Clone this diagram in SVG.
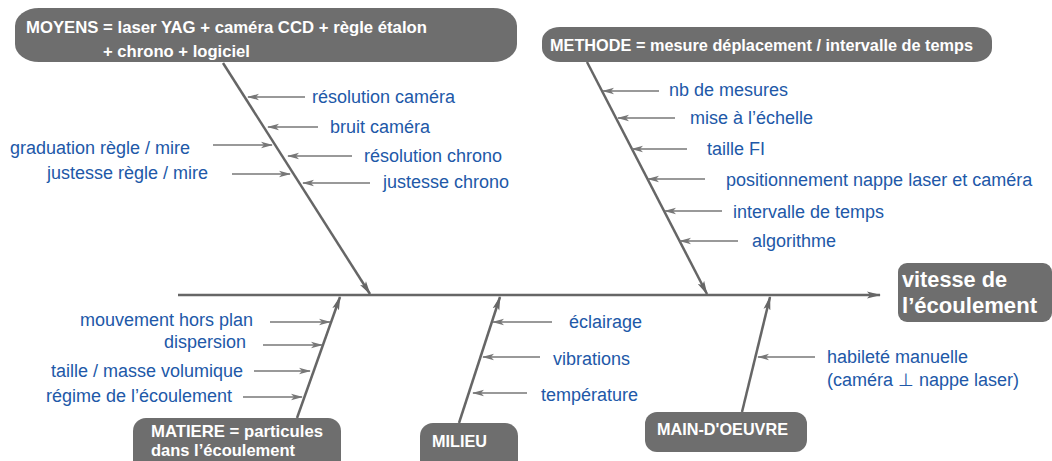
<svg xmlns="http://www.w3.org/2000/svg" width="1052" height="461" viewBox="0 0 1052 461">
<style>
.box{fill:#6e6e6e;}
.bt{font-family:"Liberation Sans",Arial,sans-serif;font-weight:bold;font-size:16.5px;fill:#ffffff;}
.et{font-family:"Liberation Sans",Arial,sans-serif;font-weight:bold;font-size:22px;fill:#ffffff;}
.ct{font-family:"Liberation Sans",Arial,sans-serif;font-size:18px;fill:#2158a8;}
.ca{stroke:#777777;stroke-width:1.5;fill:none;marker-end:url(#ah);}
.bl{stroke:#666666;stroke-width:2.5;fill:none;marker-end:url(#ahb);}
</style>
<defs>
<marker id="ah" viewBox="0 0 12 8" refX="11" refY="4" markerWidth="12" markerHeight="8" markerUnits="userSpaceOnUse" orient="auto">
<path d="M0,0.8 L12,4 L0,7.2 L3,4 z" fill="#777777"/>
</marker>
<marker id="ahb" viewBox="0 0 14 8" refX="13" refY="4" markerWidth="14" markerHeight="8" markerUnits="userSpaceOnUse" orient="auto">
<path d="M0,0.5 L14,4 L0,7.5 L3,4 z" fill="#666666"/>
</marker>
</defs>

<g id="connectors">
<line class="bl" x1="178" y1="295" x2="880" y2="295"/>
<line class="bl" x1="223" y1="63" x2="370" y2="294"/>
<line class="bl" x1="587" y1="62" x2="707" y2="294"/>
<line class="bl" x1="297" y1="418" x2="340" y2="297"/>
<line class="bl" x1="459" y1="423" x2="500" y2="297"/>
<line class="bl" x1="742" y1="412" x2="770" y2="297"/>
<line class="ca" x1="305" y1="97" x2="248" y2="97"/>
<line class="ca" x1="318" y1="127" x2="268" y2="127"/>
<line class="ca" x1="213" y1="145" x2="272" y2="145"/>
<line class="ca" x1="352" y1="156" x2="288" y2="156"/>
<line class="ca" x1="232" y1="174" x2="290" y2="174"/>
<line class="ca" x1="370" y1="183" x2="303" y2="183"/>
<line class="ca" x1="659" y1="91" x2="603" y2="91"/>
<line class="ca" x1="675" y1="118" x2="618" y2="118"/>
<line class="ca" x1="687" y1="149" x2="632" y2="149"/>
<line class="ca" x1="705" y1="179" x2="648" y2="179"/>
<line class="ca" x1="722" y1="211" x2="665" y2="211"/>
<line class="ca" x1="738" y1="241" x2="680" y2="241"/>
<line class="ca" x1="270" y1="322" x2="330" y2="322"/>
<line class="ca" x1="263" y1="345" x2="322" y2="345"/>
<line class="ca" x1="254" y1="371" x2="310" y2="371"/>
<line class="ca" x1="243" y1="397" x2="302" y2="397"/>
<line class="ca" x1="552" y1="322" x2="493" y2="322"/>
<line class="ca" x1="540" y1="357" x2="483" y2="357"/>
<line class="ca" x1="527" y1="393" x2="473" y2="393"/>
<line class="ca" x1="815" y1="357" x2="758" y2="357"/>
</g>

<g id="moyens">
<rect class="box" x="15" y="8" width="502" height="54" rx="24" ry="18"/>
<text class="bt" x="26" y="33" textLength="401" lengthAdjust="spacingAndGlyphs">MOYENS = laser YAG + caméra CCD + règle étalon</text>
<text class="bt" x="103" y="57" textLength="147" lengthAdjust="spacingAndGlyphs">+ chrono + logiciel</text>
</g>

<g id="methode">
<rect class="box" x="542" y="27" width="450" height="35" rx="18" ry="14"/>
<text class="bt" x="550" y="51" textLength="423" lengthAdjust="spacingAndGlyphs">METHODE = mesure déplacement / intervalle de temps</text>
</g>

<g id="matiere">
<rect class="box" x="133" y="418" width="208" height="60" rx="13"/>
<text class="bt" x="151" y="437" textLength="172" lengthAdjust="spacingAndGlyphs">MATIERE = particules</text>
<text class="bt" x="151" y="456" textLength="144" lengthAdjust="spacingAndGlyphs">dans l’écoulement</text>
</g>

<g id="milieu">
<rect class="box" x="420" y="423" width="98" height="55" rx="13"/>
<text class="bt" x="432" y="447" textLength="55" lengthAdjust="spacingAndGlyphs">MILIEU</text>
</g>

<g id="main-oeuvre">
<rect class="box" x="645" y="412" width="162" height="40" rx="12"/>
<text class="bt" x="657" y="435" textLength="131" lengthAdjust="spacingAndGlyphs">MAIN-D'OEUVRE</text>
</g>

<g id="effet">
<rect class="box" x="898" y="263" width="154" height="59" rx="9"/>
<text class="et" x="902" y="287" textLength="105" lengthAdjust="spacingAndGlyphs">vitesse de</text>
<text class="et" x="902" y="313" textLength="135" lengthAdjust="spacingAndGlyphs">l’écoulement</text>
</g>

<g id="causes-moyens">
<text class="ct" x="312" y="103">résolution caméra</text>
<text class="ct" x="330" y="133">bruit caméra</text>
<text class="ct" x="10" y="154">graduation règle / mire</text>
<text class="ct" x="364" y="162">résolution chrono</text>
<text class="ct" x="47" y="179">justesse règle / mire</text>
<text class="ct" x="383" y="188">justesse chrono</text>
</g>

<g id="causes-methode">
<text class="ct" x="669" y="96">nb de mesures</text>
<text class="ct" x="690" y="124">mise à l’échelle</text>
<text class="ct" x="707" y="155">taille FI</text>
<text class="ct" x="726" y="186">positionnement nappe laser et caméra</text>
<text class="ct" x="733" y="218">intervalle de temps</text>
<text class="ct" x="752" y="247">algorithme</text>
</g>

<g id="causes-matiere">
<text class="ct" x="253" y="326" text-anchor="end">mouvement hors plan</text>
<text class="ct" x="246" y="348" text-anchor="end">dispersion</text>
<text class="ct" x="243" y="377" text-anchor="end">taille / masse volumique</text>
<text class="ct" x="232" y="402" text-anchor="end">régime de l’écoulement</text>
</g>

<g id="causes-milieu">
<text class="ct" x="569" y="328">éclairage</text>
<text class="ct" x="553" y="365">vibrations</text>
<text class="ct" x="541" y="401">température</text>
</g>

<g id="causes-main-oeuvre">
<text class="ct" x="827" y="363">habileté manuelle</text>
<text class="ct" x="827" y="386">(caméra ⊥ nappe laser)</text>
</g>
</svg>
